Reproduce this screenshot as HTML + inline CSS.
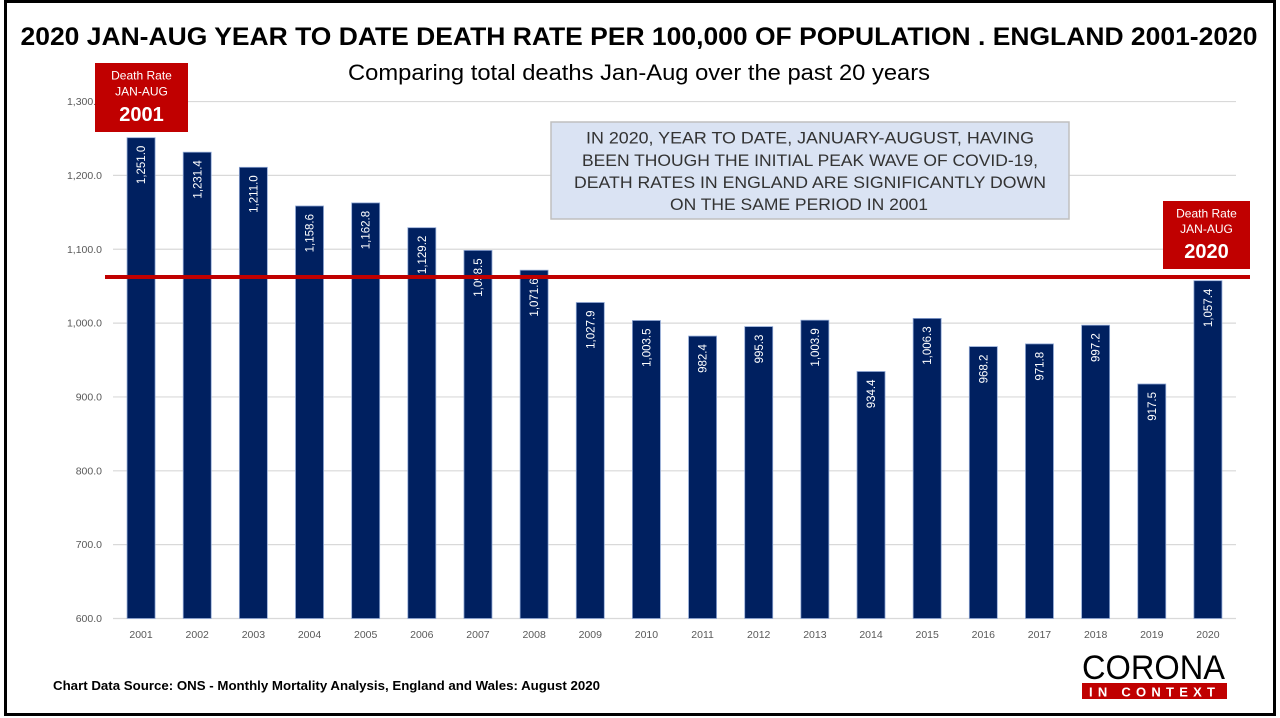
<!DOCTYPE html>
<html>
<head>
<meta charset="utf-8">
<style>
html,body{margin:0;padding:0;background:#fff;}
svg{display:block;}
text{font-family:"Liberation Sans",Arial,sans-serif;}
</style>
</head>
<body>
<svg width="1280" height="718" viewBox="0 0 1280 718" xmlns="http://www.w3.org/2000/svg">
<rect x="0" y="0" width="1280" height="718" fill="#fff"/>

<!-- Title -->
<text x="20.5" y="45" font-size="25" font-weight="bold" fill="#000" textLength="1237" lengthAdjust="spacingAndGlyphs">2020 JAN-AUG YEAR TO DATE DEATH RATE PER 100,000 OF POPULATION . ENGLAND 2001-2020</text>
<text x="348" y="80" font-size="22" fill="#000" textLength="582" lengthAdjust="spacingAndGlyphs">Comparing total deaths Jan-Aug over the past 20 years</text>

<!-- Gridlines -->
<g stroke="#D9D9D9" stroke-width="1.2">
<line x1="113" y1="618.5" x2="1236" y2="618.5"/>
<line x1="113" y1="544.65" x2="1236" y2="544.65"/>
<line x1="113" y1="470.8" x2="1236" y2="470.8"/>
<line x1="113" y1="396.95" x2="1236" y2="396.95"/>
<line x1="113" y1="323.1" x2="1236" y2="323.1"/>
<line x1="113" y1="249.25" x2="1236" y2="249.25"/>
<line x1="113" y1="175.4" x2="1236" y2="175.4"/>
<line x1="113" y1="101.55" x2="1236" y2="101.55"/>
</g>

<!-- Y labels -->
<g font-size="10.5" fill="#595959" text-anchor="end">
<text x="102" y="622">600.0</text>
<text x="102" y="548.2">700.0</text>
<text x="102" y="474.3">800.0</text>
<text x="102" y="400.5">900.0</text>
<text x="102" y="326.6">1,000.0</text>
<text x="102" y="252.8">1,100.0</text>
<text x="102" y="178.9">1,200.0</text>
<text x="102" y="105">1,300.0</text>
</g>

<!-- Bars -->
<g fill="#002060" stroke="#8EA6D3" stroke-width="0.8">
<rect x="127.07" y="137.7" width="28" height="480.8"/>
<rect x="183.22" y="152.2" width="28" height="466.3"/>
<rect x="239.37" y="167.3" width="28" height="451.2"/>
<rect x="295.52" y="206.0" width="28" height="412.5"/>
<rect x="351.67" y="202.9" width="28" height="415.6"/>
<rect x="407.82" y="227.7" width="28" height="390.8"/>
<rect x="463.97" y="250.4" width="28" height="368.1"/>
<rect x="520.12" y="270.2" width="28" height="348.3"/>
<rect x="576.27" y="302.5" width="28" height="316.0"/>
<rect x="632.42" y="320.5" width="28" height="298.0"/>
<rect x="688.57" y="336.1" width="28" height="282.4"/>
<rect x="744.72" y="326.6" width="28" height="291.9"/>
<rect x="800.87" y="320.2" width="28" height="298.3"/>
<rect x="857.02" y="371.5" width="28" height="247.0"/>
<rect x="913.17" y="318.4" width="28" height="300.1"/>
<rect x="969.32" y="346.6" width="28" height="271.9"/>
<rect x="1025.47" y="343.9" width="28" height="274.6"/>
<rect x="1081.62" y="325.2" width="28" height="293.3"/>
<rect x="1137.77" y="384.0" width="28" height="234.5"/>
<rect x="1193.92" y="280.7" width="28" height="337.8"/>
</g>

<!-- Data labels -->
<g font-size="11.5" fill="#fff" text-anchor="end">
<text transform="translate(141.07,145.7) rotate(-90)" dy="0.35em">1,251.0</text>
<text transform="translate(197.22,160.2) rotate(-90)" dy="0.35em">1,231.4</text>
<text transform="translate(253.37,175.3) rotate(-90)" dy="0.35em">1,211.0</text>
<text transform="translate(309.52,214.0) rotate(-90)" dy="0.35em">1,158.6</text>
<text transform="translate(365.67,210.9) rotate(-90)" dy="0.35em">1,162.8</text>
<text transform="translate(421.82,235.7) rotate(-90)" dy="0.35em">1,129.2</text>
<text transform="translate(477.97,258.4) rotate(-90)" dy="0.35em">1,098.5</text>
<text transform="translate(534.12,278.2) rotate(-90)" dy="0.35em">1,071.6</text>
<text transform="translate(590.27,310.5) rotate(-90)" dy="0.35em">1,027.9</text>
<text transform="translate(646.42,328.5) rotate(-90)" dy="0.35em">1,003.5</text>
<text transform="translate(702.57,344.1) rotate(-90)" dy="0.35em">982.4</text>
<text transform="translate(758.72,334.6) rotate(-90)" dy="0.35em">995.3</text>
<text transform="translate(814.87,328.2) rotate(-90)" dy="0.35em">1,003.9</text>
<text transform="translate(871.02,379.5) rotate(-90)" dy="0.35em">934.4</text>
<text transform="translate(927.17,326.4) rotate(-90)" dy="0.35em">1,006.3</text>
<text transform="translate(983.32,354.6) rotate(-90)" dy="0.35em">968.2</text>
<text transform="translate(1039.47,351.9) rotate(-90)" dy="0.35em">971.8</text>
<text transform="translate(1095.62,333.2) rotate(-90)" dy="0.35em">997.2</text>
<text transform="translate(1151.77,392.0) rotate(-90)" dy="0.35em">917.5</text>
<text transform="translate(1207.92,288.7) rotate(-90)" dy="0.35em">1,057.4</text>
</g>

<!-- X labels -->
<g font-size="10.5" fill="#595959" text-anchor="middle">
<text x="141.07" y="638">2001</text>
<text x="197.22" y="638">2002</text>
<text x="253.37" y="638">2003</text>
<text x="309.52" y="638">2004</text>
<text x="365.67" y="638">2005</text>
<text x="421.82" y="638">2006</text>
<text x="477.97" y="638">2007</text>
<text x="534.12" y="638">2008</text>
<text x="590.27" y="638">2009</text>
<text x="646.42" y="638">2010</text>
<text x="702.57" y="638">2011</text>
<text x="758.72" y="638">2012</text>
<text x="814.87" y="638">2013</text>
<text x="871.02" y="638">2014</text>
<text x="927.17" y="638">2015</text>
<text x="983.32" y="638">2016</text>
<text x="1039.47" y="638">2017</text>
<text x="1095.62" y="638">2018</text>
<text x="1151.77" y="638">2019</text>
<text x="1207.92" y="638">2020</text>
</g>

<!-- Red reference line -->
<rect x="105" y="275" width="1145" height="4" fill="#C00000"/>

<!-- Annotation box -->
<rect x="551" y="122" width="518" height="97" fill="#DAE3F3" stroke="#BFBFBF" stroke-width="1.5"/>
<g font-size="16.5" fill="#333" text-anchor="middle">
<text x="810" y="143.5" textLength="448" lengthAdjust="spacingAndGlyphs">IN 2020, YEAR TO DATE, JANUARY-AUGUST, HAVING</text>
<text x="810" y="166" textLength="456" lengthAdjust="spacingAndGlyphs">BEEN THOUGH THE INITIAL PEAK WAVE OF COVID-19,</text>
<text x="810" y="188" textLength="472" lengthAdjust="spacingAndGlyphs">DEATH RATES IN ENGLAND ARE SIGNIFICANTLY DOWN</text>
<text x="799" y="210" textLength="258" lengthAdjust="spacingAndGlyphs">ON THE SAME PERIOD IN 2001</text>
</g>

<!-- Red box 2001 -->
<rect x="95" y="63" width="93" height="69" fill="#C00000"/>
<g fill="#fff" text-anchor="middle">
<text x="141.5" y="79.5" font-size="12">Death Rate</text>
<text x="141.5" y="95.5" font-size="12">JAN-AUG</text>
<text x="141.5" y="121" font-size="20" font-weight="bold">2001</text>
</g>

<!-- Red box 2020 -->
<rect x="1163" y="201" width="87" height="68" fill="#C00000"/>
<g fill="#fff" text-anchor="middle">
<text x="1206.5" y="217.5" font-size="12">Death Rate</text>
<text x="1206.5" y="233" font-size="12">JAN-AUG</text>
<text x="1206.5" y="258" font-size="20" font-weight="bold">2020</text>
</g>

<!-- Footer -->
<text x="53" y="690" font-size="12.5" font-weight="bold" fill="#000" textLength="547" lengthAdjust="spacingAndGlyphs">Chart Data Source:  ONS - Monthly Mortality Analysis, England and Wales: August 2020</text>

<!-- Logo -->
<text x="1082" y="679" font-size="34" fill="#000" textLength="143" lengthAdjust="spacingAndGlyphs">CORONA</text>
<rect x="1082" y="683" width="145" height="16" fill="#C00000"/>
<text x="1089" y="696.5" font-size="13" font-weight="bold" fill="#fff" textLength="126" lengthAdjust="spacing">IN CONTEXT</text>

<!-- Frame -->
<rect x="5.5" y="1.5" width="1269" height="713" fill="none" stroke="#000" stroke-width="3"/>
</svg>
</body>
</html>
